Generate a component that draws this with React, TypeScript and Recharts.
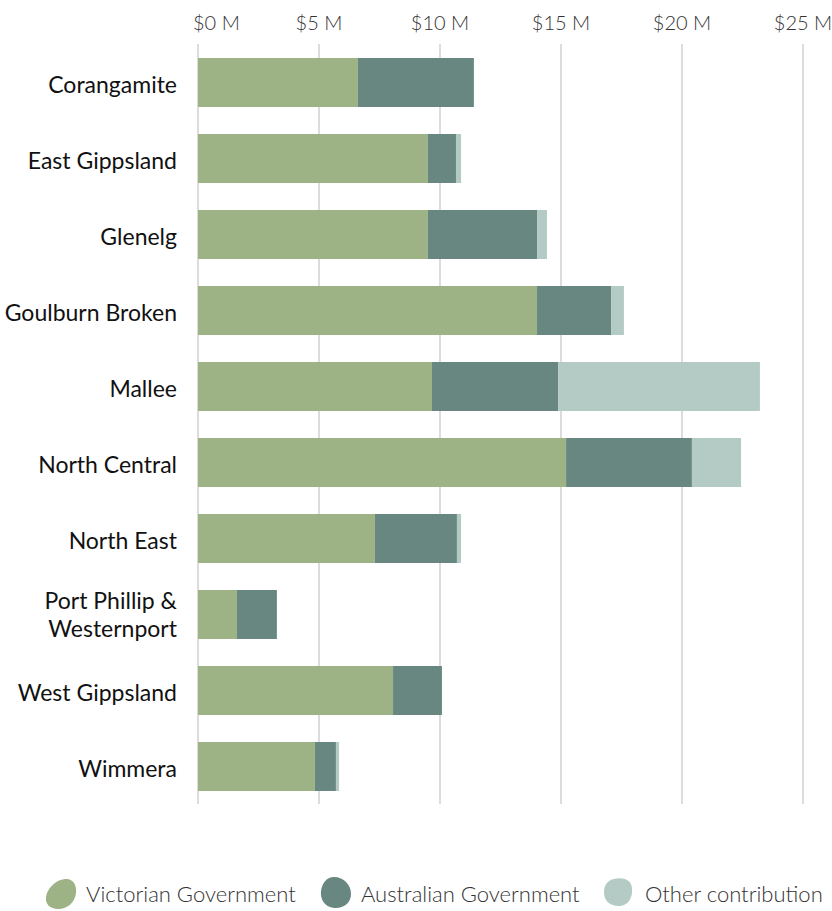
import { BarChart, Bar, XAxis, YAxis, CartesianGrid, Legend } from "recharts";

const regions = [
  "Corangamite",
  "East Gippsland",
  "Glenelg",
  "Goulburn Broken",
  "Mallee",
  "North Central",
  "North East",
  "Port Phillip & Westernport",
  "West Gippsland",
  "Wimmera",
];

// $ millions
const victorian = [6.61, 9.5, 9.5, 14.01, 9.67, 15.21, 7.31, 1.61, 8.06, 4.83];
const australian = [4.79, 1.16, 4.51, 3.06, 5.21, 5.2, 3.39, 1.65, 2.02, 0.87];
const other = [0, 0.21, 0.41, 0.53, 8.34, 2.03, 0.17, 0, 0, 0.13];

const xTicks = [0, 5, 10, 15, 20, 25];

const data = regions.map((name, i) => ({
  name,
  vic: victorian[i],
  aus: australian[i],
  other: other[i],
}));

const FONT = "Lato, 'Noto Sans', sans-serif";

const series = [
  {
    key: "vic",
    label: "Victorian Government",
    color: "#9db386",
    blob: "M21 3 C29 2 33 9 32 17 C31 26 24 33 14 33 C6 33 1 28 2 21 C3 13 11 4 21 3 Z",
  },
  {
    key: "aus",
    label: "Australian Government",
    color: "#688780",
    blob: "M15 1 C25 1 32 9 32 18 C32 27 24 33 15 32 C6 31 1 24 2 15 C3 7 8 1 15 1 Z",
  },
  {
    key: "other",
    label: "Other contribution",
    color: "#b3cbc4",
    blob: "M11 3 C19 1 28 3 29 12 C30 22 25 30 16 30 C7 30 1 25 1 16 C1 9 5 4 11 3 Z",
  },
];

const CategoryTick = (props: any) => {
  const { x, y, payload } = props;
  const text: string = payload.value;
  const lines = text.includes("& ") ? [text.split("& ")[0] + "&", text.split("& ")[1]] : [text];
  return (
    <text x={x} y={y} textAnchor="end" fill="#111" fontSize={23} fontFamily={FONT}>
      {lines.map((l, i) => (
        <tspan key={i} x={x} dy={i === 0 ? (lines.length === 1 ? 11 : -5) : 28}>
          {l}
        </tspan>
      ))}
    </text>
  );
};

const MoneyTick = (props: any) => {
  const { x, y, payload, index } = props;
  return (
    <text
      x={index === 0 ? x - 5 : x}
      y={y}
      textAnchor={index === 0 ? "start" : "middle"}
      fill="#333"
      fontSize={20}
      fontWeight={300}
      fontFamily={FONT}
    >
      {`$${payload.value} M`}
    </text>
  );
};

const BlobLegend = () => (
  <svg width={832} height={40}>
    {series.map((s, i) => {
      const xs = [44, 319, 603][i];
      return (
        <g key={s.key} transform={`translate(${xs},0)`}>
          <path d={s.blob} fill={s.color} />
          <text x={42} y={26} fontSize={22} fontWeight={300} fontFamily={FONT} fill="#333">
            {s.label}
          </text>
        </g>
      );
    })}
  </svg>
);

export default function App() {
  return (
    <div style={{ position: "absolute", left: 0, top: 0 }}>
      <BarChart
        width={832}
        height={911}
        data={data}
        layout="vertical"
        margin={{ top: 0, right: 29, left: 0, bottom: 67 }}
      >
        <CartesianGrid horizontal={false} stroke="#dcdcdc" strokeWidth={2} />
        <XAxis
          type="number"
          orientation="top"
          domain={[0, 25]}
          ticks={xTicks}
          height={44}
          axisLine={false}
          tickLine={false}
          tickSize={0}
          tickMargin={14}
          tick={<MoneyTick />}
        />
        <YAxis
          type="category"
          dataKey="name"
          width={198}
          axisLine={false}
          tickLine={false}
          tickSize={0}
          tickMargin={21}
          interval={0}
          tick={<CategoryTick />}
        />
        {series.map((s) => (
          <Bar
            key={s.key}
            dataKey={s.key}
            name={s.label}
            stackId="a"
            fill={s.color}
            barSize={49}
            isAnimationActive={false}
          />
        ))}
        <Legend
          verticalAlign="bottom"
          height={40}
          content={<BlobLegend />}
          wrapperStyle={{ top: 876, left: 0, width: 832 }}
        />
      </BarChart>
    </div>
  );
}
